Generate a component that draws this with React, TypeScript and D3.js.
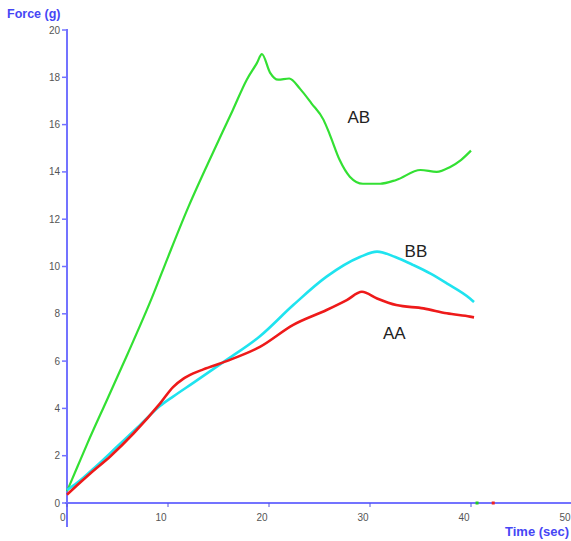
import React from "react";
import * as d3 from "d3";

const W = 571;
const H = 541;

// AB (green)
const abX = [0, 1, 2, 4, 6, 8.4, 10, 12, 14, 16.4, 17.8, 18.8, 19.3, 20.1, 20.9, 22, 23.1, 24.2, 25.4, 26, 27, 28, 29.3, 31, 32.6, 35, 36.6, 37.9, 39, 40];
const abY = [0.5, 1.5, 2.5, 4.4, 6.3, 8.67, 10.4, 12.5, 14.4, 16.6, 17.9, 18.6, 18.98, 18.2, 17.9, 17.95, 17.5, 16.9, 16.2, 15.6, 14.5, 13.8, 13.5, 13.5, 13.66, 14.08, 14.0, 14.2, 14.5, 14.9];

// BB (cyan)
const bbX = [0, 1, 3, 5, 7, 9.2, 10.5, 12.5, 15.8, 19.1, 22.4, 25.7, 29, 30.7, 32.5, 34.3, 36, 37.6, 39.9, 40.3];
const bbY = [0.55, 0.85, 1.6, 2.4, 3.2, 4.1, 4.5, 5.08, 6.05, 7.05, 8.37, 9.57, 10.4, 10.63, 10.4, 10.06, 9.7, 9.29, 8.65, 8.5];

// AA (red)
const aaX = [0, 1, 2.3, 4.3, 6.6, 9.2, 10.5, 11.5, 12.5, 13.5, 15.8, 19.1, 22.4, 25.7, 27.7, 29.2, 30.7, 32.6, 35.3, 37.6, 39.9, 40.3];
const aaY = [0.35, 0.75, 1.25, 1.98, 2.95, 4.2, 4.9, 5.25, 5.48, 5.65, 6.0, 6.6, 7.53, 8.16, 8.58, 8.93, 8.65, 8.37, 8.23, 8.02, 7.88, 7.85];

const labelNames = ["AB", "BB", "AA"];
const labelX = [28.9, 34.55, 32.4];
const labelY = [16.3, 10.65, 7.19];

const xTicks = [0, 10, 20, 30, 40, 50];
const yTicks = [0, 2, 4, 6, 8, 10, 12, 14, 16, 18, 20];

const endMarkX = [40.6, 42.2];
const endMarkColor = ["#22cc22", "#ee2222"];

const series = [
  { xs: abX, ys: abY, color: "#33e033", width: 2.2 },
  { xs: bbX, ys: bbY, color: "#1fe3ef", width: 2.6 },
  { xs: aaX, ys: aaY, color: "#ee1a1a", width: 2.6 },
];

export default function App() {
  const x = d3.scaleLinear().domain([0, 50]).range([67, 572]);
  const y = d3.scaleLinear().domain([0, 20]).range([503, 30]);
  const axisColor = "#7373ff";

  const line = d3
    .line<[number, number]>()
    .x((d) => x(d[0]))
    .y((d) => y(d[1]))
    .curve(d3.curveMonotoneX);

  return (
    <svg
      width={W}
      height={H}
      style={{ position: "absolute", left: 0, top: 0, background: "#fff" }}
      fontFamily="Liberation Sans, Arial, sans-serif"
    >
      <line x1={x(0)} x2={x(0)} y1={y(20) - 1} y2={527} stroke={axisColor} strokeWidth={2} />
      <line x1={x(0) - 2} x2={W} y1={y(0)} y2={y(0)} stroke={axisColor} strokeWidth={2} />
      {yTicks.map((t) => (
        <g key={"y" + t}>
          <line x1={x(0) - 5} x2={x(0)} y1={y(t)} y2={y(t)} stroke={axisColor} strokeWidth={1.5} />
          <text x={60} y={y(t)} dy="0.35em" textAnchor="end" fontSize={10} fill="#555">
            {t}
          </text>
        </g>
      ))}
      {xTicks.map((t) => (
        <g key={"x" + t}>
          <line x1={x(t)} x2={x(t)} y1={y(0)} y2={y(0) + 4} stroke="#5555dd" strokeWidth={1} />
          <text x={x(t) - 1.5} y={521} textAnchor="end" fontSize={10} fill="#555">
            {t}
          </text>
        </g>
      ))}
      <text x={7} y={18} fontSize={12.5} fontWeight="bold" fill="#4646f5">
        Force (g)
      </text>
      <text x={505} y={536} fontSize={13} fontWeight="bold" fill="#4646f5">
        Time (sec)
      </text>

      {series.map((s, i) => (
        <path
          key={i}
          d={line(s.xs.map((v, j) => [v, s.ys[j]]) as [number, number][]) || ""}
          fill="none"
          stroke={s.color}
          strokeWidth={s.width}
          strokeLinejoin="round"
        />
      ))}

      {endMarkX.map((v, i) => (
        <rect key={"m" + i} x={x(v) - 1.5} y={y(0) - 1.5} width={3} height={3} fill={endMarkColor[i]} />
      ))}

      {labelNames.map((n, i) => (
        <text
          key={n}
          x={x(labelX[i])}
          y={y(labelY[i])}
          dy="0.35em"
          textAnchor="middle"
          fontSize={17}
          fill="#222"
        >
          {n}
        </text>
      ))}
    </svg>
  );
}
